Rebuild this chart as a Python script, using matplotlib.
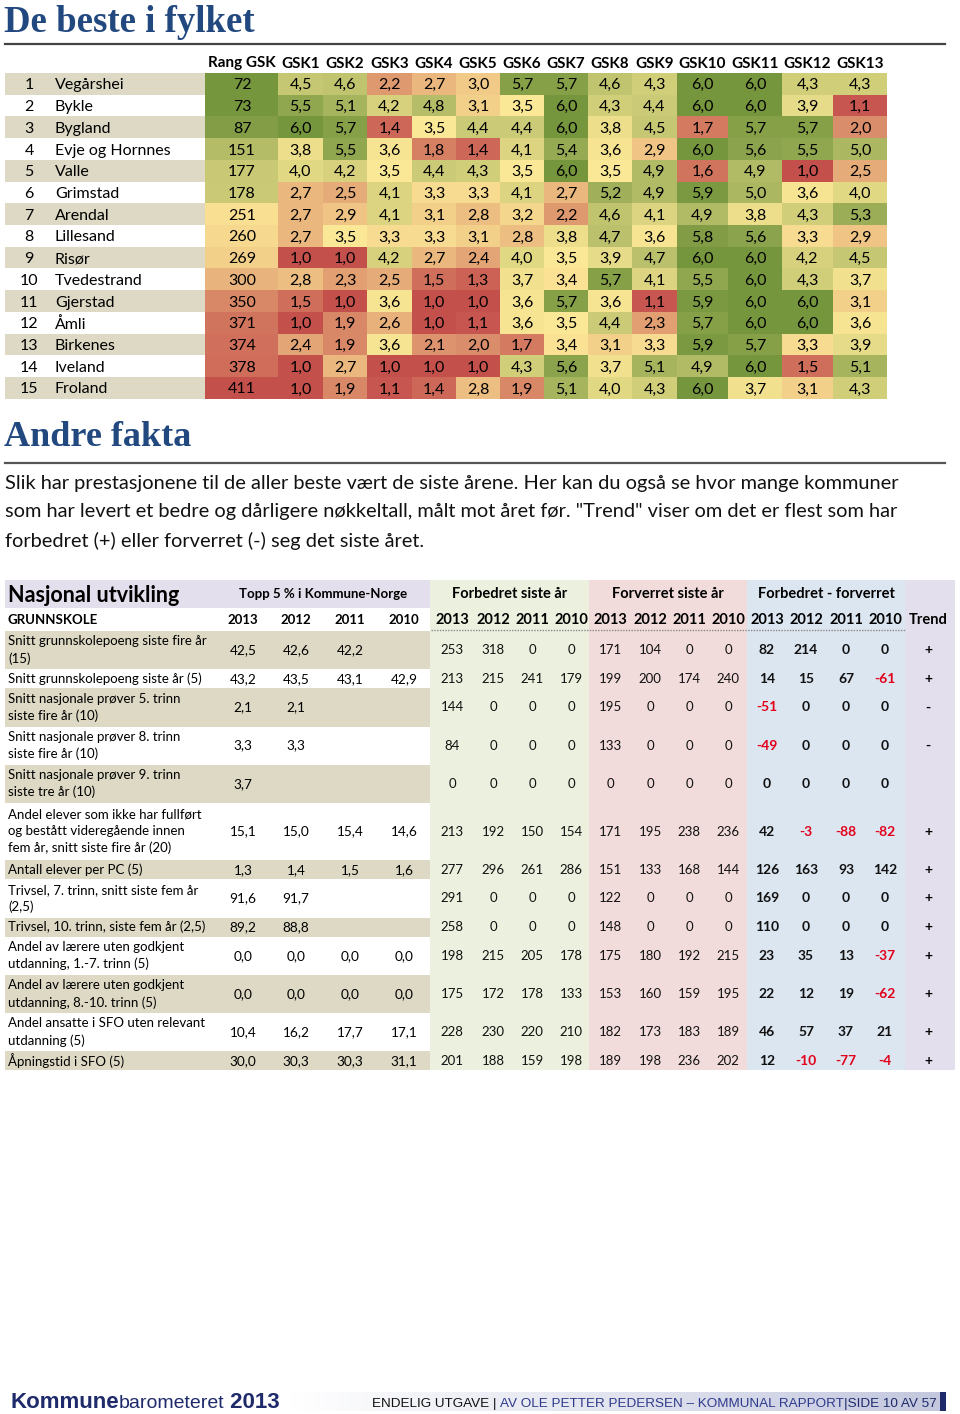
import numpy as np
import matplotlib.pyplot as plt
from matplotlib.colors import LinearSegmentedColormap, TwoSlopeNorm
from matplotlib.patches import Rectangle

# ---- data: "De beste i fylket" ----
municipalities = ['Vegårshei', 'Bykle', 'Bygland', 'Evje og Hornnes', 'Valle', 'Grimstad',
                  'Arendal', 'Lillesand', 'Risør', 'Tvedestrand', 'Gjerstad', 'Åmli',
                  'Birkenes', 'Iveland', 'Froland']
rank_gsk = [72, 73, 87, 151, 177, 178, 251, 260, 269, 300, 350, 371, 374, 378, 411]
gsk_headers = ['GSK1', 'GSK2', 'GSK3', 'GSK4', 'GSK5', 'GSK6', 'GSK7', 'GSK8', 'GSK9',
               'GSK10', 'GSK11', 'GSK12', 'GSK13']
gsk_scores = [
    [4.5, 4.6, 2.2, 2.7, 3.0, 5.7, 5.7, 4.6, 4.3, 6.0, 6.0, 4.3, 4.3],
    [5.5, 5.1, 4.2, 4.8, 3.1, 3.5, 6.0, 4.3, 4.4, 6.0, 6.0, 3.9, 1.1],
    [6.0, 5.7, 1.4, 3.5, 4.4, 4.4, 6.0, 3.8, 4.5, 1.7, 5.7, 5.7, 2.0],
    [3.8, 5.5, 3.6, 1.8, 1.4, 4.1, 5.4, 3.6, 2.9, 6.0, 5.6, 5.5, 5.0],
    [4.0, 4.2, 3.5, 4.4, 4.3, 3.5, 6.0, 3.5, 4.9, 1.6, 4.9, 1.0, 2.5],
    [2.7, 2.5, 4.1, 3.3, 3.3, 4.1, 2.7, 5.2, 4.9, 5.9, 5.0, 3.6, 4.0],
    [2.7, 2.9, 4.1, 3.1, 2.8, 3.2, 2.2, 4.6, 4.1, 4.9, 3.8, 4.3, 5.3],
    [2.7, 3.5, 3.3, 3.3, 3.1, 2.8, 3.8, 4.7, 3.6, 5.8, 5.6, 3.3, 2.9],
    [1.0, 1.0, 4.2, 2.7, 2.4, 4.0, 3.5, 3.9, 4.7, 6.0, 6.0, 4.2, 4.5],
    [2.8, 2.3, 2.5, 1.5, 1.3, 3.7, 3.4, 5.7, 4.1, 5.5, 6.0, 4.3, 3.7],
    [1.5, 1.0, 3.6, 1.0, 1.0, 3.6, 5.7, 3.6, 1.1, 5.9, 6.0, 6.0, 3.1],
    [1.0, 1.9, 2.6, 1.0, 1.1, 3.6, 3.5, 4.4, 2.3, 5.7, 6.0, 6.0, 3.6],
    [2.4, 1.9, 3.6, 2.1, 2.0, 1.7, 3.4, 3.1, 3.3, 5.9, 5.7, 3.3, 3.9],
    [1.0, 2.7, 1.0, 1.0, 1.0, 4.3, 5.6, 3.7, 5.1, 4.9, 6.0, 1.5, 5.1],
    [1.0, 1.9, 1.1, 1.4, 2.8, 1.9, 5.1, 4.0, 4.3, 6.0, 3.7, 3.1, 4.3],
]

# ---- data: "Nasjonal utvikling" ----
indicators = [
    'Snitt grunnskolepoeng siste fire år\n(15)',
    'Snitt grunnskolepoeng siste år (5)',
    'Snitt nasjonale prøver 5. trinn\nsiste fire år (10)',
    'Snitt nasjonale prøver 8. trinn\nsiste fire år (10)',
    'Snitt nasjonale prøver 9. trinn\nsiste tre år (10)',
    'Andel elever som ikke har fullført\nog bestått videregående innen\nfem år, snitt siste fire år (20)',
    'Antall elever per PC (5)',
    'Trivsel, 7. trinn, snitt siste fem år\n(2,5)',
    'Trivsel, 10. trinn, siste fem år (2,5)',
    'Andel av lærere uten godkjent\nutdanning, 1.-7. trinn (5)',
    'Andel av lærere uten godkjent\nutdanning, 8.-10. trinn (5)',
    'Andel ansatte i SFO uten relevant\nutdanning (5)',
    'Åpningstid i SFO (5)',
]
years = ['2013', '2012', '2011', '2010']
top5 = [
    [42.5, 42.6, 42.2, None],
    [43.2, 43.5, 43.1, 42.9],
    [2.1, 2.1, None, None],
    [3.3, 3.3, None, None],
    [3.7, None, None, None],
    [15.1, 15.0, 15.4, 14.6],
    [1.3, 1.4, 1.5, 1.6],
    [91.6, 91.7, None, None],
    [89.2, 88.8, None, None],
    [0.0, 0.0, 0.0, 0.0],
    [0.0, 0.0, 0.0, 0.0],
    [10.4, 16.2, 17.7, 17.1],
    [30.0, 30.3, 30.3, 31.1],
]
improved = [
    [253, 318, 0, 0], [213, 215, 241, 179], [144, 0, 0, 0], [84, 0, 0, 0],
    [0, 0, 0, 0], [213, 192, 150, 154], [277, 296, 261, 286], [291, 0, 0, 0],
    [258, 0, 0, 0], [198, 215, 205, 178], [175, 172, 178, 133], [228, 230, 220, 210],
    [201, 188, 159, 198],
]
worsened = [
    [171, 104, 0, 0], [199, 200, 174, 240], [195, 0, 0, 0], [133, 0, 0, 0],
    [0, 0, 0, 0], [171, 195, 238, 236], [151, 133, 168, 144], [122, 0, 0, 0],
    [148, 0, 0, 0], [175, 180, 192, 215], [153, 160, 159, 195], [182, 173, 183, 189],
    [189, 198, 236, 202],
]
net_change = [
    [82, 214, 0, 0], [14, 15, 67, -61], [-51, 0, 0, 0], [-49, 0, 0, 0],
    [0, 0, 0, 0], [42, -3, -88, -82], [126, 163, 93, 142], [169, 0, 0, 0],
    [110, 0, 0, 0], [23, 35, 13, -37], [22, 12, 19, -62], [46, 57, 37, 21],
    [12, -10, -77, -4],
]
trend = ['+', '+', '-', '-', '', '+', '+', '+', '+', '+', '+', '+', '+']

# ---- styles ----
TITLE_BLUE = '#22497F'
BEIGE = '#DDD9C4'
LAVENDER = '#E4DFEC'
GREEN_BG = '#EBF1DE'
PINK_BG = '#F2DCDB'
BLUE_BG = '#DCE6F1'
NEG_RED = '#E2001A'
NAVY = '#1F2A6B'
SERIF = 'Liberation Serif'

plt.rcParams['font.family'] = ['Lato', 'DejaVu Sans']
fig = plt.figure(figsize=(9.6, 14.14), dpi=100)
ax = fig.add_axes([0, 0, 1, 1])
ax.axis('off')


def fmt(v):
    return ('%.1f' % v).replace('.', ',')


# ===== De beste i fylket =====
ax.text(4, 23, 'De beste i fylket', fontfamily=SERIF, fontweight='bold', fontsize=26.5,
        color=TITLE_BLUE, va='center', ha='left')
ax.plot([5, 945], [44, 44], color='#444444', lw=1.6)

row_h = 21.72
y_edges = 73 + np.arange(len(municipalities) + 1) * row_h
y_mid = (y_edges[:-1] + y_edges[1:]) / 2
rank_x = [205, 278]
gsk_x = [278, 323, 367, 412, 456, 500, 544, 588, 632, 677, 728, 782, 833, 887]

cmap = LinearSegmentedColormap.from_list('ryg', ['#C4504C', '#FCE896', '#76963E'])
ax.pcolormesh(gsk_x, y_edges, np.array(gsk_scores), cmap=cmap,
              norm=TwoSlopeNorm(vmin=1, vcenter=3.5, vmax=6))
ax.pcolormesh(rank_x, y_edges, np.array(rank_gsk)[:, None], cmap=cmap.reversed(),
              norm=TwoSlopeNorm(vmin=min(rank_gsk), vcenter=(min(rank_gsk) + max(rank_gsk)) / 2,
                                vmax=max(rank_gsk)))

ax.text(242, 62, 'Rang GSK', ha='center', va='center_baseline', fontsize=11,
        fontweight='bold')
for j, h in enumerate(gsk_headers):
    ax.text((gsk_x[j] + gsk_x[j + 1]) / 2, 62, h, ha='center', va='center_baseline',
            fontsize=11, fontweight='bold')

for i, name in enumerate(municipalities):
    if i % 2 == 0:
        ax.add_patch(Rectangle((5, y_edges[i]), 200, row_h, fc=BEIGE, ec='none'))
    ax.text(29, y_mid[i], str(i + 1), ha='center', va='center_baseline', fontsize=11.5)
    ax.text(55, y_mid[i], name, ha='left', va='center_baseline', fontsize=11.5)
    ax.text(242, y_mid[i], str(rank_gsk[i]), ha='center', va='center_baseline',
            fontsize=11.5)
    for j, v in enumerate(gsk_scores[i]):
        ax.text((gsk_x[j] + gsk_x[j + 1]) / 2, y_mid[i], fmt(v), ha='center',
                va='center_baseline', fontsize=11.5)

# ===== Andre fakta =====
ax.text(4, 438, 'Andre fakta', fontfamily=SERIF, fontweight='bold', fontsize=26,
        color=TITLE_BLUE, va='center', ha='left')
ax.plot([5, 945], [463, 463], color='#555555', lw=1.6)
paragraph = [
    'Slik har prestasjonene til de aller beste vært de siste årene. Her kan du også se hvor mange kommuner',
    'som har levert et bedre og dårligere nøkkeltall, målt mot året før. "Trend" viser om det er flest som har',
    'forbedret (+) eller forverret (-) seg det siste året.',
]
for k, line in enumerate(paragraph):
    ax.text(5, 483 + 29 * k, line, ha='left', va='center', fontsize=14.4, color='#111111')

# ===== Nasjonal utvikling =====
band_top, head_bot, years_bot = 580, 608, 630
line_h = 19.1
n_lines = [s.count('\n') + 1 for s in indicators]
row_top = years_bot + 1 + np.concatenate([[0], np.cumsum(n_lines)]) * line_h
table_bot = row_top[-1]

top5_x = [243, 296, 350, 404]
groups = [
    ('Forbedret siste år', 430, 589, GREEN_BG, [452, 493, 532, 571], improved),
    ('Forverret siste år', 589, 747, PINK_BG, [610, 650, 689, 728], worsened),
    ('Forbedret - forverret', 747, 905, BLUE_BG, [767, 806, 846, 885], net_change),
]

ax.add_patch(Rectangle((5, band_top), 425, head_bot - band_top, fc=LAVENDER, ec='none'))
ax.add_patch(Rectangle((905, band_top), 50, table_bot - band_top, fc=LAVENDER, ec='none'))
for title, x0, x1, bg, xs, vals in groups:
    ax.add_patch(Rectangle((x0, band_top), x1 - x0, table_bot - band_top, fc=bg, ec='none'))
    ax.text((x0 + x1) / 2, 594, title, ha='center', va='center', fontsize=10.5,
            fontweight='bold')
    for x, yr in zip(xs, years):
        ax.text(x, 620, yr, ha='center', va='center', fontsize=10.5, fontweight='bold')

ax.text(8, 595, 'Nasjonal utvikling', ha='left', va='center', fontsize=15.5,
        fontweight='bold')
ax.text(323, 594, 'Topp 5 % i Kommune-Norge', ha='center', va='center', fontsize=9.5,
        fontweight='bold')
ax.text(8, 620, 'GRUNNSKOLE', ha='left', va='center', fontsize=9.5, fontweight='bold')
for x, yr in zip(top5_x, years):
    ax.text(x, 620, yr, ha='center', va='center', fontsize=9.5, fontweight='bold')
ax.text(928, 620, 'Trend', ha='center', va='center', fontsize=10.5, fontweight='bold')
ax.plot([431, 905], [630, 630], color='#888888', lw=1, ls=(0, (1, 1)))

for i, label in enumerate(indicators):
    y0, y1 = row_top[i], row_top[i + 1]
    yc = (y0 + y1) / 2
    if i % 2 == 0:
        ax.add_patch(Rectangle((5, y0), 425, y1 - y0, fc=BEIGE, ec='none'))
    ax.text(8, yc, label, ha='left', va='center', fontsize=9.5, linespacing=1.45)
    for x, v in zip(top5_x, top5[i]):
        if v is not None:
            ax.text(x, yc, fmt(v), ha='center', va='center', fontsize=9.8)
    for title, x0, x1, bg, xs, vals in groups:
        bold = vals is net_change
        for x, v in zip(xs, vals[i]):
            ax.text(x, yc, str(v), ha='center', va='center',
                    fontsize=10 if bold else 9.5,
                    fontweight='bold' if bold else 'normal',
                    color=NEG_RED if v < 0 else '#111111')
    ax.text(928, yc, trend[i], ha='center', va='center', fontsize=10, fontweight='bold')

# ===== footer =====
grad = LinearSegmentedColormap.from_list('foot', ['#FFFFFF', '#C4C8DE'])
ax.imshow(np.linspace(0, 1, 256)[None, :], extent=[290, 940, 1411, 1392], cmap=grad,
          aspect='auto', zorder=0)
ax.add_patch(Rectangle((940, 1392), 6, 19, fc=NAVY, ec='none'))

fy = 1408
t = ax.text(10, fy, 'Kommune', fontfamily='Liberation Sans', fontweight='bold',
            fontsize=16, color=NAVY, va='baseline', ha='left')
t = ax.annotate('barometeret', xy=(1, fy), xycoords=(t, 'data'), fontfamily='Liberation Sans',
                fontsize=14, color=NAVY, va='baseline', ha='left')
ax.annotate(' 2013', xy=(1, fy), xycoords=(t, 'data'), fontfamily='Liberation Sans',
            fontweight='bold', fontsize=16, color=NAVY, va='baseline', ha='left')

t = ax.text(372, 1407, 'ENDELIG UTGAVE | ', fontfamily='Liberation Sans', fontsize=9.7,
            color='#111111', va='baseline', ha='left')
t = ax.annotate('AV OLE PETTER PEDERSEN – KOMMUNAL RAPPORT', xy=(1, 1407),
                xycoords=(t, 'data'), fontfamily='Liberation Sans', fontsize=9.7,
                color='#2E3A8C', va='baseline', ha='left')
ax.annotate('|SIDE 10 AV 57', xy=(1, 1407), xycoords=(t, 'data'),
            fontfamily='Liberation Sans', fontsize=9.7, color=NAVY, va='baseline', ha='left')

ax.set_xlim(0, 960)
ax.set_ylim(1414, 0)
fig.savefig('out.png', dpi=100, facecolor='white')
